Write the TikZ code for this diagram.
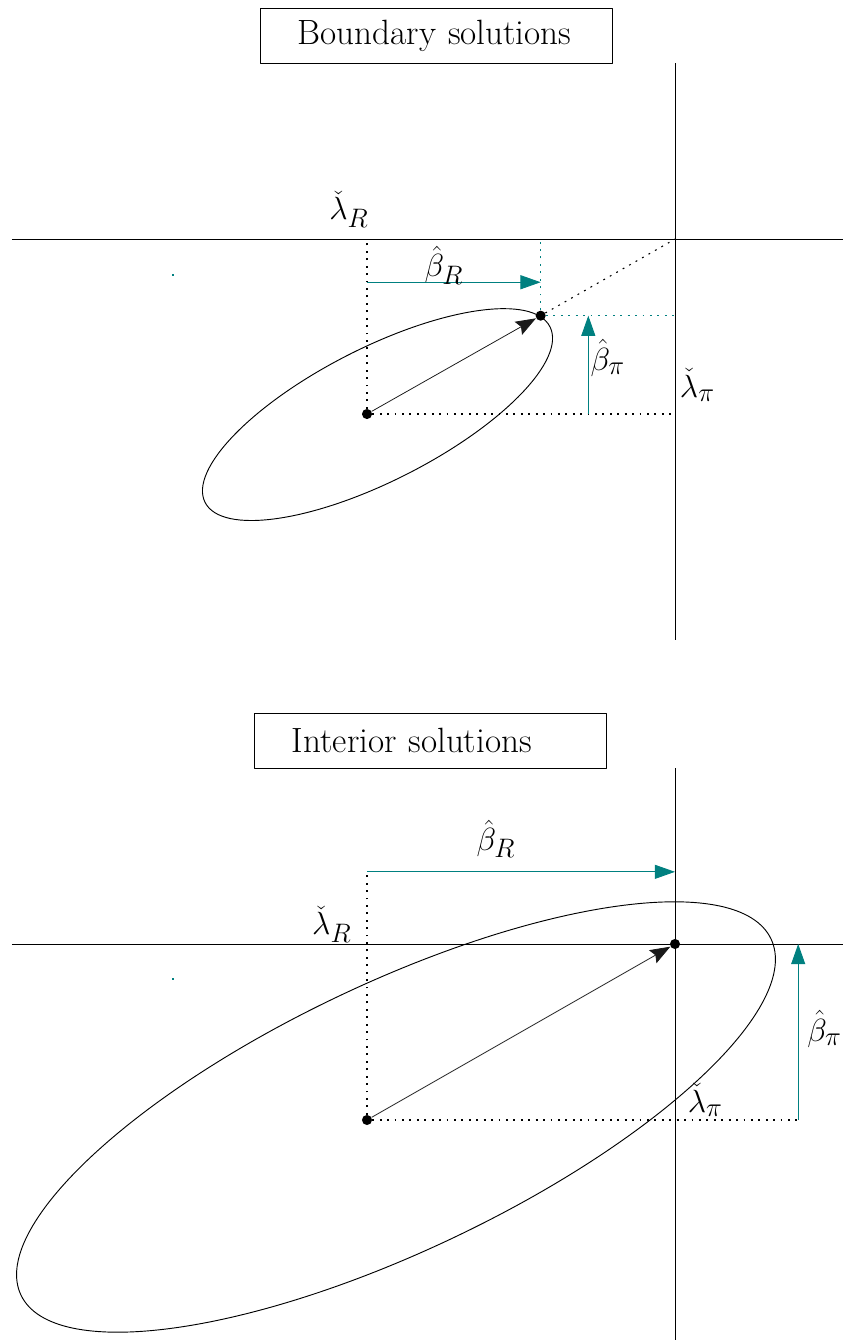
\documentclass[tikz,border=0pt]{standalone}
\usepackage{amsmath,amssymb}
\usepackage{tikz}
\usetikzlibrary{arrows.meta,calc}
\usetikzlibrary{positioning}
\tikzset{hdr/.style={draw,line width=0.5pt,text width=6.3cm,align=left,inner xsep=0.85cm,minimum height=1.25cm},
  pt/.style={circle,fill=black,inner sep=0pt,minimum size=0.23cm},
  guide/.style={line width=0.7pt,dash pattern=on 1.2pt off 3.6pt},
  axis/.style={line width=0.6pt},
  bvec/.style={teal,line width=0.6pt,-{Triangle[length=0.46cm,width=0.32cm]}},
  kvec/.style={black!90,line width=0.5pt,-{Stealth[length=0.46cm,width=0.34cm,inset=0.07cm]}}}

\begin{document}
\begin{tikzpicture}[line join=round,font=\fontsize{22.7}{27}\selectfont]
\useasboundingbox (-8.341,0) rectangle (10.818,30.455);
% --- boundary case: optimum on the ellipse
\begin{scope}
\node[hdr] (hdrB) at (1.58,29.648) {Boundary solutions};
\coordinate (oB) at (7,25.02);
\coordinate (xlB) at (-8.07,25.02); \coordinate (xrB) at (10.818,25.02);
\coordinate (ytB) at (7,29.02); \coordinate (ybB) at (7,15.9);
\draw[axis] (xlB) -- (xrB); \draw[axis] (ytB) -- (ybB);
\draw[line width=0.6pt] (0.239,21.032) ellipse[x radius=4.398,y radius=1.509,rotate=27];
\node[pt] (cB) at (0,21.045) {}; \node[pt] (pB) at (3.947,23.28) {};
\draw[guide] (cB) -- (cB |- oB); \draw[guide] (cB) -- (oB |- cB);
\draw[guide] (pB) -- (oB);
\draw[guide,teal] (pB) -- (pB |- oB); \draw[guide,teal] (pB) -- (oB |- pB);
\draw[kvec] (cB) -- (pB);
\coordinate (brB) at (0,24.04); \coordinate (bpB) at (5.03,21.045);
\draw[bvec] (brB) -- (pB |- brB);
\draw[bvec] (bpB) -- (bpB |- pB);
\node (lrB) at (-0.41,25.7) {$\check\lambda_R$};
\node (lpB) at (7.51,21.7) {$\check\lambda_\pi$};
\node (hrB) at (1.75,24.43) {$\hat\beta_R$};
\node (hpB) at (5.47,22.32) {$\hat\beta_\pi$};
\fill[teal] (-4.44,24.18) rectangle (-4.38,24.23);
\end{scope}
% --- interior case: optimum at the origin
\begin{scope}
\node[hdr] (hdrI) at (1.443,13.625) {Interior solutions};
\coordinate (xlI) at (-8.07,9); \coordinate (xrI) at (10.818,9);
\coordinate (ytI) at (7,13); \coordinate (ybI) at (7,0);
\draw[axis] (xlI) -- (xrI); \draw[axis] (ytI) -- (ybI);
\draw[line width=0.6pt] (0.659,5.068) ellipse[x radius=9.436,y radius=3.039,rotate=25.4];
\node[pt] (cI) at (0,5) {}; \node[pt] (oI) at (7,9) {};
\coordinate (brI) at (0,10.64); \coordinate (bpI) at (9.8,5);
\draw[guide] (cI) -- (brI); \draw[guide] (cI) -- (bpI);
\draw[kvec] (cI) -- (oI);
\draw[bvec] (brI) -- (oI |- brI);
\draw[bvec] (bpI) -- (bpI |- oI);
\node (lrI) at (-0.80,9.45) {$\check\lambda_R$};
\node (lpI) at (7.69,5.45) {$\check\lambda_\pi$};
\node (hrI) at (2.93,11.39) {$\hat\beta_R$};
\node (hpI) at (10.40,7.07) {$\hat\beta_\pi$};
\fill[teal] (-4.44,8.18) rectangle (-4.38,8.23);
\end{scope}
\end{tikzpicture}
\end{document}
